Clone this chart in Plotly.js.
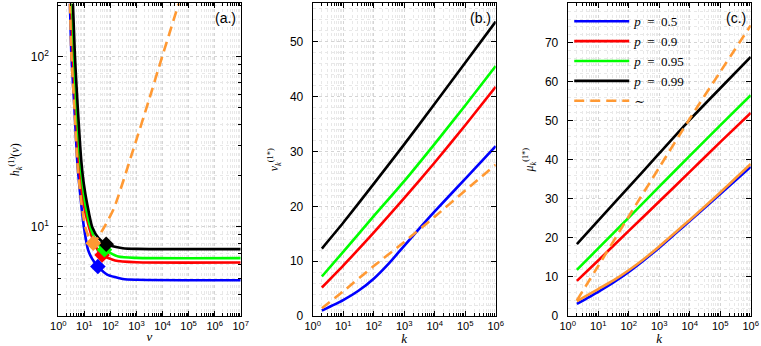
<!DOCTYPE html>
<html>
<head>
<meta charset="utf-8">
<script src="https://cdn.plot.ly/plotly-3.0.1.min.js"></script>
<style>html, body { margin: 0; padding: 0; background: #fff; }</style>
</head>
<body>
<div id="chart" style="width:761px;height:346px"></div>
<script>
'use strict';

// colours per quantile level p, plus the approximation (~)
const colP05 = '#0000ff';
const colP09 = '#ff0000';
const colP095 = '#00ff00';
const colP099 = '#000000';
const colApprox = '#ff9933';

// (a.) h_k^(1)(nu) vs nu, one curve per p
const nuP05 = [2.8, 3.2, 4.17, 5.3, 6.3, 8, 9.6, 14, 20, 33, 75, 300, 1000, 1e7];
const hP05 = [205, 100, 49.6, 24.7, 18, 12.6, 10, 7.3, 6.5, 5.86, 5.25, 4.95, 4.9, 4.86];
const nuP09 = [3.1, 3.6, 4.6, 6.1, 7.3, 9.5, 15, 27, 48, 150, 1000, 1e7];
const hP09 = [205, 100, 50, 24.7, 18, 13.5, 10, 7.67, 6.85, 6.35, 6.2, 6.18];
const nuP095 = [3.4, 4.0, 5.0, 6.9, 8.5, 11, 17, 30, 59, 200, 1000, 1e7];
const hP095 = [205, 100, 50, 24.7, 18, 13.5, 10, 8.1, 7.35, 6.7, 6.58, 6.56];
const nuP099 = [3.65, 4.36, 5.6, 7.6, 9.5, 13, 20, 35, 69, 300, 1000, 1e7];
const hP099 = [205, 100, 50, 24.7, 18, 13.5, 10, 8.6, 7.92, 7.5, 7.43, 7.41];
const nuApprox = [2.8, 3.2, 4.17, 5.3, 6.3, 8, 10.8, 15, 22, 50, 135, 676, 3000, 10000, 50000];
const hApprox = [205, 100, 49.6, 24.7, 18.3, 13.2, 10, 8.7, 8.03, 9.6, 12.8, 27, 55.5, 101.5, 224];

// optimum points (diamonds) in (a.): p = 0.5, 0.9, 0.95, 0.99, ~
const optNu = [33, 48, 59, 69, 22];
const optH = [5.86, 6.85, 7.35, 7.92, 8.03];
const optColors = [colP05, colP09, colP095, colP099, colApprox];

// (b.) nu_k^(1*) and (c.) mu_k^(1*) vs k
const kVals = [2, 10, 100, 1e3, 1e4, 1e5, 1e6];
const kFine = [2, 10, 31.6, 100, 316, 1e3, 3162, 1e4, 1e5, 1e6];

const nuStarP05 = [1.0, 2.9, 4.6, 6.8, 9.6, 12.8, 16.0, 19.1, 25.0, 31.0]; // on kFine
const nuStarP09 = [5.2, 9.2, 15.2, 21.5, 28.0, 34.8, 41.8];
const nuStarP095 = [7.2, 11.7, 18.2, 24.6, 31.4, 38.4, 45.6];
const nuStarP099 = [12.3, 17.0, 24.1, 31.3, 38.7, 46.2, 53.7];
const nuStarApprox = [1.4, 4.5, 9.1, 13.5, 18.1, 22.9, 27.6];

const muStarP05 = [3.1, 6.2, 8.6, 11.3, 14.3, 17.5, 20.9, 24.3, 31.2, 38.2]; // on kFine
const muStarApproxSolid = [3.8, 6.9, 9.1, 11.7, 14.6, 17.8, 21.2, 24.6, 31.6, 38.9]; // on kFine
const muStarP09 = [9.0, 14.2, 21.8, 29.3, 36.9, 44.5, 52.0];
const muStarP095 = [11.8, 17.3, 25.2, 33.1, 41.0, 48.8, 56.5];
const muStarP099 = [18.4, 24.4, 33.0, 41.6, 50.2, 58.3, 66.3];
const muStarApproxDash = [4.0, 12.8, 25.5, 38.0, 50.5, 62.5, 74.4];

// tick labels
const nuTickVals = [1, 10, 100, 1e3, 1e4, 1e5, 1e6, 1e7];
const nuTickText = nuTickVals.map((v, i) => '10<sup>' + i + '</sup>');
const kTickVals = [1, 10, 100, 1e3, 1e4, 1e5, 1e6];
const kTickText = kTickVals.map((v, i) => '10<sup>' + i + '</sup>');
const hTickVals = [10, 100];
const hTickText = ['10<sup>1</sup>', '10<sup>2</sup>'];

const legendNames = ['<i>p</i>\u00a0\u00a0=\u00a0\u00a00.5', '<i>p</i>\u00a0\u00a0=\u00a0\u00a00.9',
  '<i>p</i>\u00a0\u00a0=\u00a0\u00a00.95', '<i>p</i>\u00a0\u00a0=\u00a0\u00a00.99', '\u223c'];

const LW = 2.6;
const DASH = '10px,6px';

function curve(x, y, color, xa, ya, opts) {
  opts = opts || {};
  return {
    x: x, y: y,
    xaxis: xa, yaxis: ya,
    type: 'scatter', mode: 'lines',
    line: {color: color, width: LW, dash: opts.dash || 'solid', shape: 'spline', smoothing: 0.6},
    name: opts.name || '',
    showlegend: !!opts.name,
    hoverinfo: 'skip'
  };
}

const data = [
  // (a.)
  curve(nuP05, hP05, colP05, 'x', 'y'),
  curve(nuP09, hP09, colP09, 'x', 'y'),
  curve(nuP095, hP095, colP095, 'x', 'y'),
  curve(nuP099, hP099, colP099, 'x', 'y'),
  curve(nuApprox, hApprox, colApprox, 'x', 'y', {dash: DASH}),
  {
    x: optNu, y: optH, xaxis: 'x', yaxis: 'y',
    type: 'scatter', mode: 'markers',
    marker: {symbol: 'diamond', size: 12, color: optColors},
    showlegend: false, hoverinfo: 'skip'
  },
  // (b.)
  curve(kFine, nuStarP05, colP05, 'x2', 'y2'),
  curve(kVals, nuStarP09, colP09, 'x2', 'y2'),
  curve(kVals, nuStarP095, colP095, 'x2', 'y2'),
  curve(kVals, nuStarP099, colP099, 'x2', 'y2'),
  curve(kVals, nuStarApprox, colApprox, 'x2', 'y2', {dash: DASH}),
  // (c.) carries the legend
  curve(kFine, muStarP05, colP05, 'x3', 'y3', {name: legendNames[0]}),
  curve(kVals, muStarP09, colP09, 'x3', 'y3', {name: legendNames[1]}),
  curve(kVals, muStarP095, colP095, 'x3', 'y3', {name: legendNames[2]}),
  curve(kVals, muStarP099, colP099, 'x3', 'y3', {name: legendNames[3]}),
  curve(kFine, muStarApproxSolid, colApprox, 'x3', 'y3'),
  curve(kVals, muStarApproxDash, colApprox, 'x3', 'y3', {dash: DASH, name: legendNames[4]})
];

const tickFont = {family: 'Liberation Sans, Arial, sans-serif', size: 12, color: '#000'};
const xTickFont = {family: 'Liberation Sans, Arial, sans-serif', size: 11, color: '#000'};
const titleFont = {family: 'Liberation Serif, DejaVu Serif, serif', size: 13, color: '#000'};
const yTitleFont = {family: 'Liberation Serif, DejaVu Serif, serif', size: 12, color: '#000'};
const gridCol = '#d4d4d4';
const minorGridCol = '#e8e8e8';

function axisBase(extra) {
  return Object.assign({
    showline: true, linecolor: '#000', linewidth: 1, mirror: 'ticks',
    ticks: 'inside', ticklen: 5, tickcolor: '#000',
    showgrid: true, gridcolor: gridCol, griddash: 'dot', gridwidth: 1,
    zeroline: false, tickfont: tickFont, automargin: false
  }, extra);
}

const logMinor = {ticks: 'inside', ticklen: 3, tickcolor: '#000', showgrid: true,
  gridcolor: minorGridCol, griddash: 'dot', dtick: 'D1'};
const linMinor = {ticks: '', showgrid: true, gridcolor: minorGridCol, griddash: 'dot', dtick: 2};

const yBottom = 0.0867;
const yTop = 0.9899;

function xLog(range, domain, anchor, tickvals, ticktext, title) {
  return axisBase({
    type: 'log', range: range, domain: domain, anchor: anchor,
    tickmode: 'array', tickvals: tickvals, ticktext: ticktext,
    tickfont: xTickFont, ticklabelstandoff: 0,
    minor: logMinor,
    title: {text: title, font: titleFont, standoff: 0}
  });
}

const layout = {
  width: 761, height: 346,
  margin: {l: 0, r: 0, t: 0, b: 0},
  paper_bgcolor: '#fff', plot_bgcolor: '#fff',
  hovermode: false,
  showlegend: true,
  legend: {
    x: 0.748, y: 0.982, xanchor: 'left', yanchor: 'top',
    bgcolor: 'rgba(255,255,255,0)', borderwidth: 0,
    font: {family: 'Liberation Serif, DejaVu Serif, serif', size: 13, color: '#000'},
    itemwidth: 55
  },
  xaxis: xLog([0, 7], [0.0766, 0.3163], 'y', nuTickVals, nuTickText, '<i>\u03bd</i>'),
  yaxis: axisBase({
    type: 'log', range: [Math.log10(3), Math.log10(205)], domain: [yBottom, yTop], anchor: 'x',
    tickmode: 'array', tickvals: hTickVals, ticktext: hTickText, ticklabelstandoff: 6,
    minor: logMinor,
    title: {text: '<i>h</i><sub><i>k</i></sub><sup>(1)</sup>(<i>\u03bd</i>)', font: yTitleFont, standoff: 8}
  }),
  xaxis2: xLog([0, 6], [0.4109, 0.6514], 'y2', kTickVals, kTickText, '<i>k</i>'),
  yaxis2: axisBase({
    range: [0, 57], domain: [yBottom, yTop], anchor: 'x2',
    dtick: 10, ticklabelstandoff: 6, minor: linMinor,
    title: {text: '<i>\u03bd</i><sub><i>k</i></sub><sup>(1*)</sup>', font: yTitleFont, standoff: 8}
  }),
  xaxis3: xLog([0, 6], [0.7460, 0.9865], 'y3', kTickVals, kTickText, '<i>k</i>'),
  yaxis3: axisBase({
    range: [0, 80], domain: [yBottom, yTop], anchor: 'x3',
    dtick: 10, ticklabelstandoff: 6, minor: linMinor,
    title: {text: '<i>\u03bc</i><sub><i>k</i></sub><sup>(1*)</sup>', font: yTitleFont, standoff: 8}
  }),
  annotations: [['x', '(a.)'], ['x2', '(b.)'], ['x3', '(c.)']].map(([ax, label]) => ({
    xref: ax + ' domain', yref: 'paper', x: 0.985, y: yTop - 0.012,
    xanchor: 'right', yanchor: 'top', showarrow: false, text: label,
    font: {family: 'Liberation Sans, Arial, sans-serif', size: 14, color: '#000'}
  }))
};

Plotly.newPlot('chart', data, layout, {staticPlot: true, displayModeBar: false});
</script>
</body>
</html>
